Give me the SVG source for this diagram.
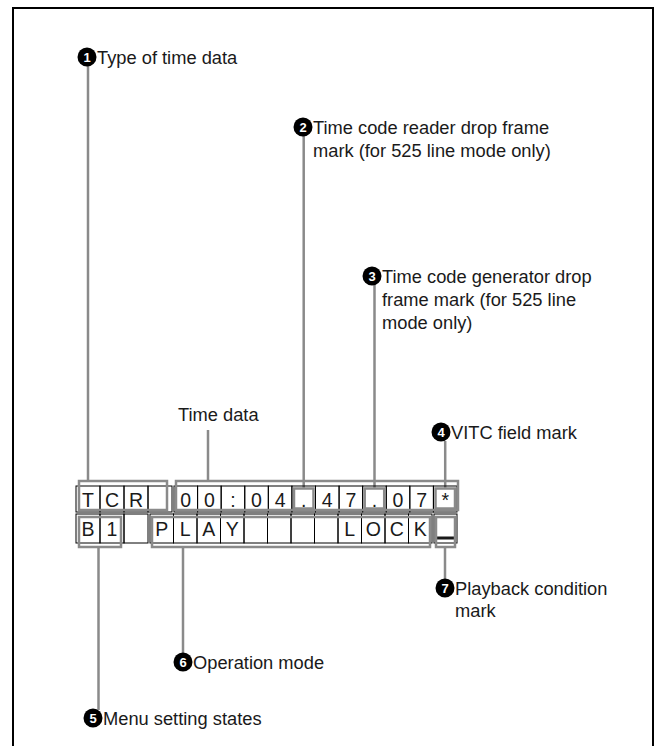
<svg xmlns="http://www.w3.org/2000/svg" width="661" height="746" viewBox="0 0 661 746">
<style>
.frame{fill:none;stroke:#000;stroke-width:2}
.lead{fill:none;stroke:#8a8a8a;stroke-width:2.5}
.brk{fill:none;stroke:#8a8a8a;stroke-width:2.5}
.cell{fill:none;stroke:#000;stroke-width:1}
.lbl{font-family:"Liberation Sans",Arial,Helvetica,sans-serif;font-size:18.3px;fill:#1a1a1a}
.ch{font-family:"Liberation Sans",Arial,Helvetica,sans-serif;font-size:19.5px;fill:#1a1a1a;text-anchor:middle}
.num{fill:#000}
.numt{font-family:"Liberation Sans",Arial,Helvetica,sans-serif;font-size:13px;font-weight:bold;fill:#fff;text-anchor:middle}
</style>
<rect width="661" height="746" fill="#fff"/>
<path class="frame" d="M13,747 V8 H653 V747"/>

<g id="connectors">
<path class="lead" d="M88,66 V481"/>
<path class="lead" d="M303.7,136 V488"/>
<path class="lead" d="M374.5,285 V488"/>
<path class="lead" d="M208,430 V481"/>
<path class="lead" d="M445.2,441 V488"/>
<path class="lead" d="M98.5,547 V710"/>
<path class="lead" d="M183,547 V654"/>
<path class="lead" d="M445,547 V580"/>
</g>

<g id="display">
<g id="row1">
<rect class="cell" x="76" y="486" width="24" height="26"/>
<rect class="cell" x="100" y="486" width="24" height="26"/>
<rect class="cell" x="124" y="486" width="24" height="26"/>
<rect class="cell" x="148" y="486" width="24" height="26"/>
<rect class="cell" x="174" y="486" width="23.58" height="26"/>
<rect class="cell" x="197.58" y="486" width="23.58" height="26"/>
<rect class="cell" x="221.17" y="486" width="23.58" height="26"/>
<rect class="cell" x="244.75" y="486" width="23.58" height="26"/>
<rect class="cell" x="268.33" y="486" width="23.58" height="26"/>
<rect class="cell" x="291.92" y="486" width="23.58" height="26"/>
<rect class="cell" x="315.5" y="486" width="23.58" height="26"/>
<rect class="cell" x="339.08" y="486" width="23.58" height="26"/>
<rect class="cell" x="362.67" y="486" width="23.58" height="26"/>
<rect class="cell" x="386.25" y="486" width="23.58" height="26"/>
<rect class="cell" x="409.83" y="486" width="23.58" height="26"/>
<rect class="cell" x="433.42" y="486" width="23.58" height="26"/>
<text class="ch" x="88" y="507">T</text>
<text class="ch" x="112" y="507">C</text>
<text class="ch" x="136" y="507">R</text>
<text class="ch" x="185.8" y="507">0</text>
<text class="ch" x="209.4" y="507">0</text>
<text class="ch" x="233" y="507">:</text>
<text class="ch" x="256.5" y="507">0</text>
<text class="ch" x="280.1" y="507">4</text>
<text class="ch" x="303.7" y="507">.</text>
<text class="ch" x="327.3" y="507">4</text>
<text class="ch" x="350.9" y="507">7</text>
<text class="ch" x="374.5" y="507">.</text>
<text class="ch" x="398" y="507">0</text>
<text class="ch" x="421.6" y="507">7</text>
<text class="ch" x="445.2" y="507">*</text>
</g>
<g id="row2">
<rect class="cell" x="76" y="514" width="24" height="29"/>
<rect class="cell" x="100" y="514" width="24" height="29"/>
<rect class="cell" x="124" y="514" width="24" height="29"/>
<rect class="cell" x="150" y="514" width="23.5" height="29"/>
<rect class="cell" x="173.5" y="514" width="23.5" height="29"/>
<rect class="cell" x="197" y="514" width="23.5" height="29"/>
<rect class="cell" x="220.5" y="514" width="23.5" height="29"/>
<rect class="cell" x="244" y="514" width="23.5" height="29"/>
<rect class="cell" x="267.5" y="514" width="23.5" height="29"/>
<rect class="cell" x="291" y="514" width="23.5" height="29"/>
<rect class="cell" x="314.5" y="514" width="23.5" height="29"/>
<rect class="cell" x="338" y="514" width="23.5" height="29"/>
<rect class="cell" x="361.5" y="514" width="23.5" height="29"/>
<rect class="cell" x="385" y="514" width="23.5" height="29"/>
<rect class="cell" x="408.5" y="514" width="23.5" height="29"/>
<rect class="cell" x="434" y="514" width="23" height="29"/>
<text class="ch" x="88" y="536">B</text>
<text class="ch" x="112" y="536">1</text>
<text class="ch" x="161.75" y="536">P</text>
<text class="ch" x="185.25" y="536">L</text>
<text class="ch" x="208.75" y="536">A</text>
<text class="ch" x="232.25" y="536">Y</text>
<text class="ch" x="349.75" y="536">L</text>
<text class="ch" x="373.25" y="536">O</text>
<text class="ch" x="396.75" y="536">C</text>
<text class="ch" x="420.25" y="536">K</text>
<rect x="437" y="536.5" width="17" height="3" fill="#1a1a1a"/>
</g>
<g id="brackets">
<rect class="brk" x="79" y="481" width="88" height="29"/>
<rect class="brk" x="176" y="481" width="282" height="29"/>
<rect class="brk" x="294" y="488.5" width="19.5" height="20"/>
<rect class="brk" x="364.7" y="488.5" width="19.5" height="20"/>
<rect class="brk" x="435.5" y="488.5" width="19.5" height="20"/>
<rect class="brk" x="79" y="517" width="42" height="30"/>
<rect class="brk" x="152" y="517" width="278" height="30"/>
<rect class="brk" x="436" y="517" width="19" height="30"/>
</g>
</g>

<g id="n1">
<circle class="num" cx="87" cy="57" r="9.5"/>
<text class="numt" x="87" y="61.7">1</text>
<text class="lbl" x="97" y="64">Type of time data</text>
</g>
<g id="n2">
<circle class="num" cx="303" cy="127" r="9.5"/>
<text class="numt" x="303" y="131.7">2</text>
<text class="lbl" x="313" y="134">Time code reader drop frame</text>
<text class="lbl" x="313" y="157">mark (for 525 line mode only)</text>
</g>
<g id="n3">
<circle class="num" cx="372" cy="276" r="9.5"/>
<text class="numt" x="372" y="280.7">3</text>
<text class="lbl" x="382" y="283">Time code generator drop</text>
<text class="lbl" x="382" y="306">frame mark (for 525 line</text>
<text class="lbl" x="382" y="329">mode only)</text>
</g>
<g id="timedata">
<text class="lbl" x="178" y="421">Time data</text>
</g>
<g id="n4">
<circle class="num" cx="441" cy="432" r="9.5"/>
<text class="numt" x="441" y="436.7">4</text>
<text class="lbl" x="451" y="439">VITC field mark</text>
</g>
<g id="n5">
<circle class="num" cx="93" cy="718" r="9.5"/>
<text class="numt" x="93" y="722.7">5</text>
<text class="lbl" x="103" y="725">Menu setting states</text>
</g>
<g id="n6">
<circle class="num" cx="183" cy="662" r="9.5"/>
<text class="numt" x="183" y="666.7">6</text>
<text class="lbl" x="193" y="669">Operation mode</text>
</g>
<g id="n7">
<circle class="num" cx="445" cy="588" r="9.5"/>
<text class="numt" x="445" y="592.7">7</text>
<text class="lbl" x="455" y="595">Playback condition</text>
<text class="lbl" x="455" y="617">mark</text>
</g>
</svg>
